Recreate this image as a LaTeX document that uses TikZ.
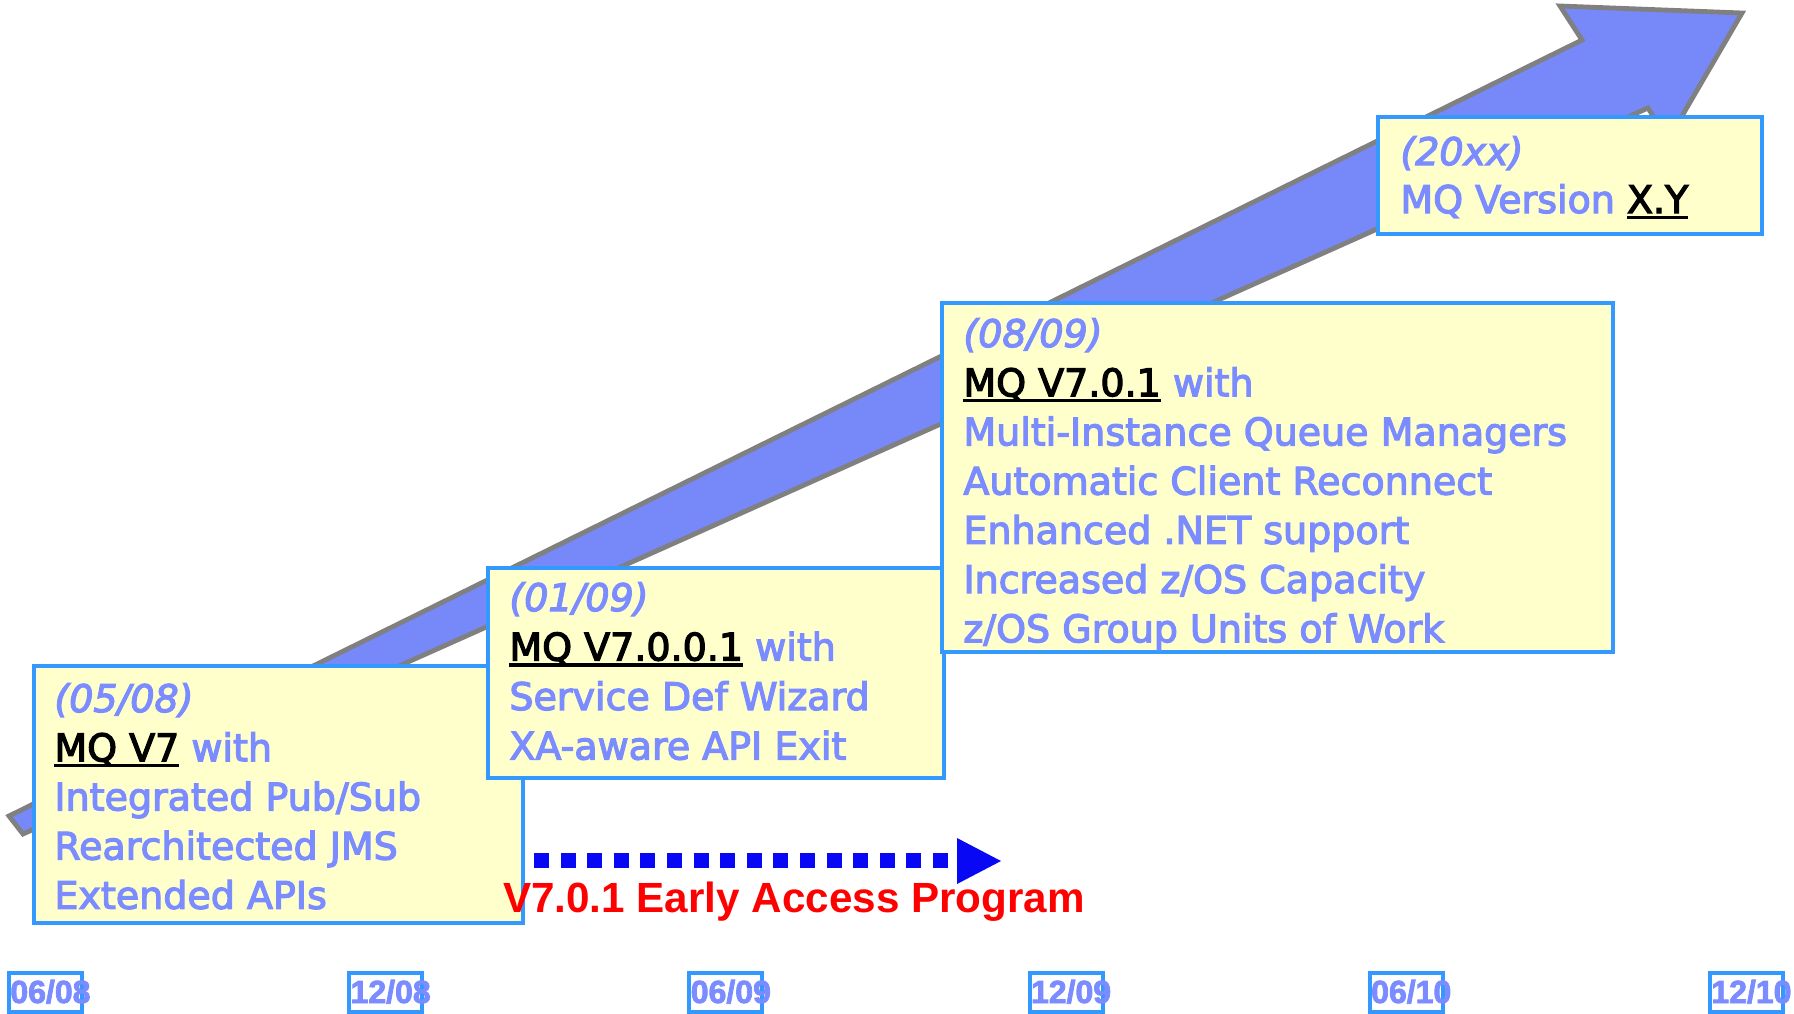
\documentclass[tikz,border=0pt]{standalone}
\usepackage{fontspec}
\setmainfont{DejaVu Sans}[FakeBold=3.2]
\newfontfamily\arialfont{Liberation Sans}
\newfontfamily\arialheavy{Liberation Sans Bold}[FakeBold=2.5]
\definecolor{arrowfill}{RGB}{119,136,248}
\definecolor{arrowline}{RGB}{128,128,128}
\definecolor{violettext}{RGB}{122,140,255}
\definecolor{boxline}{RGB}{51,153,255}
\definecolor{boxfill}{RGB}{255,255,204}
\definecolor{dotblue}{RGB}{8,8,245}
\definecolor{eapred}{RGB}{255,0,0}
\newcommand{\mqul}[1]{{\color{black}\setbox0\hbox{#1}\rlap{\rule[-3pt]{\wd0}{1.6pt}}\box0}}
\tikzset{
  bigarrow/.style={fill=arrowfill, draw=arrowline, line width=2.4pt, line join=miter},
  infobox/.style={draw=boxline, fill=boxfill, line width=2pt, inner sep=0pt, anchor=north west},
  txt/.style={inner sep=0pt, anchor=base west, text=violettext, font=\fontsize{19}{23}\selectfont},
  tlbox/.style={draw=boxline, line width=2pt, inner sep=0pt, anchor=north west, minimum width=36.5pt, minimum height=19.5pt},
  tltext/.style={inner sep=0pt, anchor=base west, text=violettext, font=\arialheavy\fontsize{16}{19}\selectfont},
  eaplabel/.style={inner sep=0pt, anchor=base, text=eapred, font=\arialfont\bfseries\fontsize{21.1}{25}\selectfont},
  dotline/.style={draw=dotblue, line width=7.5pt, dash pattern=on 7.5pt off 5.8pt},
}
\begin{document}
\begin{tikzpicture}[x=0.5pt,y=-0.5pt]
\useasboundingbox (0,0) rectangle (1794,1013);
% big rising arrow
\coordinate (atl) at (9,816);
\coordinate (abl) at (23,834);
\coordinate (aun) at (1582,40);
\coordinate (ahl) at (1560,6);
\coordinate (atip) at (1742,13);
\coordinate (ahb) at (1668,140);
\coordinate (aln) at (1648,108);
\draw[bigarrow] (atl) -- (aun) -- (ahl) -- (atip) -- (ahb) -- (aln) -- (abl) -- cycle;
% boxes
\node[infobox, minimum width=244.5pt, minimum height=128.5pt] (b1) at (32,664) {};
\foreach \t [count=\i from 0] in {{\textit{(05/08)}},{\mqul{MQ V7} with},{Integrated Pub/Sub},{Rearchitected JMS},{Extended APIs}}
  \node[txt] (b1-\i) at (54,{712+49.2*\i}) {\t};
\node[infobox, minimum width=228pt, minimum height=105pt] (b2) at (486,566) {};
\foreach \t [count=\i from 0] in {{\textit{(01/09)}},{\mqul{MQ V7.0.0.1} with},{Service Def Wizard},{XA-aware API Exit}}
  \node[txt] (b2-\i) at (509,{611+49.5*\i}) {\t};
\node[infobox, minimum width=335.5pt, minimum height=174.5pt] (b3) at (940,301) {};
\foreach \t [count=\i from 0] in {{\textit{(08/09)}},{\mqul{MQ V7.0.1} with},{Multi-Instance Queue Managers},{Automatic Client Reconnect},{Enhanced .NET support},{Increased z/OS Capacity},{z/OS Group Units of Work}}
  \node[txt] (b3-\i) at (963,{347+49.2*\i}) {\t};
\node[infobox, minimum width=192pt, minimum height=58.5pt] (b4) at (1376,115) {};
\node[txt] (b4-0) at (1400,165) {\textit{(20xx)}};
\node[txt] (b4-1) at (1400,213) {MQ Version \mqul{X.Y}};
% early access program arrow
\coordinate (ds) at (534,860);
\coordinate (de) at (950,860);
\draw[dotline] (ds) -- (de);
\coordinate (dh1) at (957,838);
\coordinate (dh2) at (1001,861);
\coordinate (dh3) at (957,884);
\fill[dotblue] (dh1) -- (dh2) -- (dh3) -- cycle;
\node[eaplabel] (eap) at (794,912) {V7.0.1 Early Access Program};
% timeline
\foreach \lbl [count=\i from 0] in {06/08,12/08,06/09,12/09,06/10,12/10}{
  \node[tlbox] (tb\i) at ({7+340.2*\i},971) {};
  \node[tltext] (tt\i) at ({10+340.2*\i},1003) {\lbl};
}
\end{tikzpicture}
\end{document}
